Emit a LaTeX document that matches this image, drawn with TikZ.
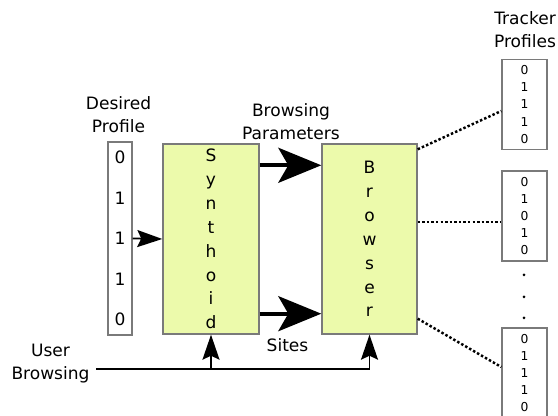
\documentclass[tikz,border=0pt]{standalone}
\usepackage{fontspec}
\setmainfont{DejaVu Sans}
\usepackage{xcolor}
\usepackage{tikz}
\usetikzlibrary{arrows.meta, calc}
\definecolor{boxfill}{HTML}{ECFAAB}
\definecolor{boxline}{HTML}{7A7A7A}

\begin{document}
\begin{tikzpicture}[
  block/.style={rectangle, draw=boxline, line width=0.8pt, fill=boxfill,
                minimum width=1.9cm, minimum height=3.8cm, align=center,
                inner sep=0pt, font=\fontsize{9.7}{13.6}\selectfont},
  vec/.style={rectangle, draw=boxline, line width=0.8pt, fill=white,
              align=center, inner sep=0pt},
  lbl/.style={align=center, font=\fontsize{9.7}{13}\selectfont},
  arr/.style={-{Stealth[length=0.5cm, width=0.34cm, inset=0.08cm]}, line width=1pt},
  bigarr/.style={-{Stealth[length=0.86cm, width=0.7cm, inset=0.2cm]}, line width=2.2pt},
  trk/.style={dash pattern=on 1.4pt off 1.2pt, line width=1.4pt}
]
\useasboundingbox (0,0) rectangle (11.16,-8.32);

\node[vec, minimum width=0.48cm, minimum height=3.86cm,
      font=\fontsize{9.7}{23}\selectfont] (des) at (2.40,-4.77) {0\\1\\1\\1\\0};
\node[block, minimum width=1.92cm] (syn) at (4.22,-4.78) {S\\y\\n\\t\\h\\o\\i\\d};
\node[block] (brw) at (7.39,-4.78) {B\\r\\o\\w\\s\\e\\r};

\foreach \k/\yy/\bits in {1/-2.09/{0\\1\\1\\1\\0}, 2/-4.32/{0\\1\\0\\1\\0},
                          3/-7.46/{0\\1\\1\\1\\0}}{
  \node[vec, minimum width=0.9cm, minimum height=1.8cm,
        font=\fontsize{7}{9.8}\selectfont] (tp\k) at (10.49,\yy) {\bits};
}
\foreach \yy in {-5.50,-5.94,-6.36}{
  \fill (10.48,\yy) circle (0.03);
}

\node[lbl] (lblDes) at (2.37,-2.30) {Desired\\Profile};
\node[lbl] (lblPar) at (5.82,-2.43) {Browsing\\Parameters};
\node[lbl] (lblTrk) at (10.50,-0.60) {Tracker\\Profiles};
\node[lbl] (lblSites) at (5.75,-6.90) {Sites};
\node[lbl] (lblUser) at (1.01,-7.27) {User\\Browsing};

\draw[arr] (des.east) -- (syn.west);

\coordinate (parOut) at ($(syn.north east)+(0,-0.44)$);
\coordinate (siteOut) at ($(syn.south east)+(0,0.42)$);
\draw[bigarr] (parOut) -- (parOut -| brw.west);
\draw[bigarr] (siteOut) -- (siteOut -| brw.west);

\coordinate (ubStart) at (1.92,-7.38);
\draw[arr] (ubStart) -| (brw.south);
\draw[arr] (ubStart -| syn.south) -- (syn.south);

\draw[trk] ($(brw.north east)+(0,-0.12)$) -- ($(tp1.west)+(0,-0.13)$);
\draw[trk] ($(brw.east |- tp2.west)+(0,-0.12)$) -- ($(tp2.west)+(0,-0.12)$);
\draw[trk] ($(brw.south east)+(0,0.32)$) -- ($(tp3.west)+(0,0.12)$);
\end{tikzpicture}
\end{document}
